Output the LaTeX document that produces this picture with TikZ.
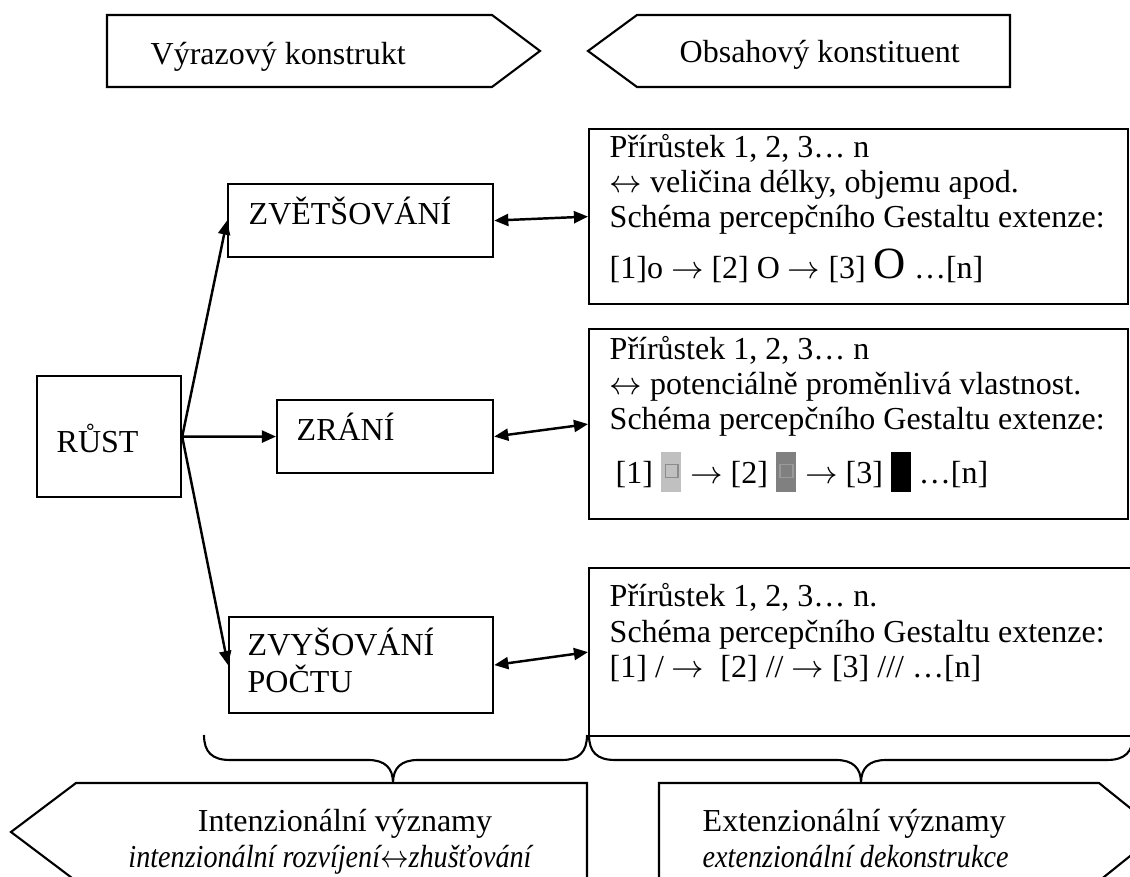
\documentclass[tikz,border=0pt]{standalone}
\usepackage{xcolor}
\usepackage{graphicx}
\usepackage{fontspec}
\setmainfont{Liberation Serif}
\usepackage{tikz}
\usetikzlibrary{arrows.meta,positioning}
\definecolor{ink}{HTML}{000000}
\definecolor{lightsq}{HTML}{C0C0C0}
\definecolor{lightrim}{HTML}{8C8C8C}
\definecolor{darksq}{HTML}{808080}
\definecolor{darkrim}{HTML}{9A9A9A}
\tikzset{
  line/.style={draw=ink, line width=0.6pt},
  box/.style={draw=ink, line width=0.6pt, rectangle, inner sep=0pt, anchor=north west},
  txt/.style={text=ink, inner sep=0pt, anchor=base west, font=\fontsize{9.1}{11}\selectfont},
  ctxt/.style={txt, anchor=base},
  arr/.style={draw=ink, line width=0.7pt, -{Triangle[length=4pt,width=3.4pt]}},
  darr/.style={draw=ink, line width=0.7pt, {Triangle[length=4pt,width=3.4pt]}-{Triangle[length=4pt,width=3.4pt]}}
}
\newcommand{\shadesq}[2]{{\setlength{\fboxsep}{0pt}\setlength{\fboxrule}{0.35pt}%
  \rlap{\textcolor{#1}{\rule[-2.3pt]{5.7pt}{11.4pt}}}%
  \hspace{1pt}\raisebox{2pt}{\fcolorbox{#2}{#1}{\rule{0pt}{3.3pt}\rule{3.3pt}{0pt}}}\hspace{1pt}}}
\newcommand{\blacksq}{\rule[-2.3pt]{5.7pt}{11.4pt}}
\newcommand{\bigO}{{\fontsize{12.7}{14}\selectfont O}}
\newcommand{\narrowit}[1]{\scalebox{0.88}[1]{\itshape #1}}

\begin{document}
\begin{tikzpicture}[x=0.01cm, y=-0.01cm]
  \useasboundingbox (0,0) rectangle (1130,877);
  \clip (0,0) rectangle (1130,877);

  % top headings
  \draw[line] (107,15) -- (492,15) -- (540,51) -- (492,87) -- (107,87) -- cycle;
  \draw[line] (588,51) -- (637,15) -- (1010,15) -- (1010,87) -- (637,87) -- cycle;
  \node[txt] (vyrazlbl) at (150,65) {Výrazový konstrukt};
  \node[txt] (obsahlbl) at (679,63) {Obsahový konstituent};

  % expression side
  \node[box, minimum width=1.44cm, minimum height=1.21cm] (rust) at (36,375) {};
  \node[box, minimum width=2.65cm, minimum height=0.73cm] (zvet) at (227,183) {};
  \node[box, minimum width=2.16cm, minimum height=0.73cm] (zrani) at (276,399) {};
  \node[box, minimum width=2.64cm, minimum height=0.96cm] (pocet) at (228,616) {};
  \node[txt] (rustlbl) at (56,453) {RŮST};
  \node[txt] (zvetlbl) at (248,225) {ZVĚTŠOVÁNÍ};
  \node[txt] (zranilbl) at (296,441) {ZRÁNÍ};
  \node[txt] (pocetlbla) at (247,656) {ZVYŠOVÁNÍ};
  \node[txt] (pocetlblb) at (247,693) {POČTU};

  % content side
  \node[box, minimum width=5.39cm, minimum height=1.75cm] (obs1) at (588,128) {};
  \node[box, minimum width=5.39cm, minimum height=1.90cm] (obs2) at (588,328) {};
  \node[box, minimum width=5.60cm, minimum height=1.68cm] (obs3) at (588,567) {};

  \node[txt] (obs1a) at (609,158) {Přírůstek 1, 2, 3… n};
  \node[txt] (obs1b) at (609,193) {$\leftrightarrow$ veličina délky, objemu apod.};
  \node[txt] (obs1c) at (609,228) {Schéma percepčního Gestaltu extenze:};
  \node[txt] (obs1d) at (609,279) {[1]o $\rightarrow$ [2] O $\rightarrow$ [3] \bigO\ …[n]};

  \node[txt] (obs2a) at (609,360) {Přírůstek 1, 2, 3… n};
  \node[txt] (obs2b) at (609,395) {$\leftrightarrow$ potenciálně proměnlivá vlastnost.};
  \node[txt] (obs2c) at (609,430) {Schéma percepčního Gestaltu extenze:};
  \node[txt] (obs2d) at (615,484) {[1] \shadesq{lightsq}{lightrim} $\rightarrow$ [2] \shadesq{darksq}{darkrim} $\rightarrow$ [3] \blacksq\ …[n]};

  \node[txt] (obs3a) at (609,607) {Přírůstek 1, 2, 3… n.};
  \node[txt] (obs3b) at (609,643) {Schéma percepčního Gestaltu extenze:};
  \node[txt] (obs3c) at (609,678) {[1] / $\rightarrow$\ \ [2] // $\rightarrow$ [3] /// …[n]};

  % connectors
  \draw[arr] (rust.east) -- (zvet.west);
  \draw[arr] (rust.east) -- (zrani.west);
  \draw[arr] (rust.east) -- (pocet.west);
  \draw[darr] (zvet.east) -- (obs1.west);
  \draw[darr] (zrani.east) -- (obs2.west);
  \draw[darr] (pocet.east) -- (obs3.west);

  % braces
  \draw[line] (204,735) .. controls (204,752) and (212,760) .. (230,760) -- (368,760)
    .. controls (385,760) and (393,768) .. (393,783)
    .. controls (393,768) and (401,760) .. (418,760) -- (562,760)
    .. controls (579,760) and (587,752) .. (587,735);
  \draw[line] (589,735) .. controls (589,752) and (597,760) .. (615,760) -- (836,760)
    .. controls (853,760) and (861,768) .. (861,783)
    .. controls (861,768) and (869,760) .. (886,760) -- (1107,760)
    .. controls (1125,760) and (1133,752) .. (1133,735);

  % bottom headings
  \draw[line] (11,832) -- (76,783) -- (587,783) -- (587,881) -- (76,881) -- cycle;
  \draw[line] (659,783) -- (1099,783) -- (1160,832) -- (1099,881) -- (659,881) -- cycle;
  \node[ctxt] (intenlbl) at (345,832) {Intenzionální významy};
  \node[ctxt] (intensub) at (330,868) {\narrowit{intenzionální rozvíjení$\leftrightarrow$zhušťování}};
  \node[txt] (extenlbl) at (702,832) {Extenzionální významy};
  \node[txt] (extensub) at (702,868) {\narrowit{extenzionální dekonstrukce}};
\end{tikzpicture}
\end{document}
